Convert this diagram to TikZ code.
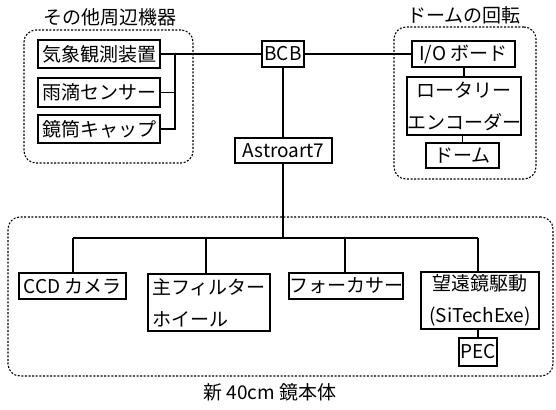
\documentclass[tikz,border=0pt]{standalone}
\usepackage{fontspec}
\setmainfont{Noto Sans CJK JP}
\begin{document}
\begin{tikzpicture}[x=1pt,y=-1pt,
  box/.style={draw,line width=1.1pt,inner sep=0pt,font=\fontsize{19}{32}\selectfont},
  group/.style={draw,line width=1.1pt,dash pattern=on 2pt off 1.6pt,rounded corners=12pt,inner sep=0pt},
  ttl/.style={font=\fontsize{19}{22}\selectfont,inner sep=0pt},
  conn/.style={line width=1.1pt}]
\useasboundingbox (0,0) rectangle (556,409);
% groups
\node[group,minimum width=169pt,minimum height=133pt] (g1) at (108.5,96.5) {};
\node[group,minimum width=142pt,minimum height=152pt] (g2) at (465,103) {};
\node[group,minimum width=545pt,minimum height=159pt] (g3) at (280.5,296.5) {};
\node[ttl] (t1) at (110,17) {その他周辺機器};
\node[ttl] (t2) at (464,15) {ドームの回転};
\node[ttl] (t3) at (270,392) {新 40cm 鏡本体};
% boxes
\node[box,minimum width=122pt,minimum height=28pt] (met) at (99,54) {気象観測装置};
\node[box,minimum width=122pt,minimum height=29pt] (rain) at (99,92.5) {雨滴センサー};
\node[box,minimum width=122pt,minimum height=28pt] (cap) at (99,129) {鏡筒キャップ};
\node[box,minimum width=42pt,minimum height=26pt] (bcb) at (283,54) {BCB};
\node[box,minimum width=103pt,minimum height=26pt] (io) at (463.5,54) {I/O ボード};
\node[box,minimum width=114pt,minimum height=58pt,align=center] (enc) at (464,106) {ロータリー\\エンコーダー};
\node[box,minimum width=73pt,minimum height=25pt] (dome) at (462.5,155.5) {ドーム};
\node[box,minimum width=97pt,minimum height=25pt] (astro) at (283.5,150.5) {Astroart7};
\node[box,minimum width=107pt,minimum height=26pt] (ccd) at (72.5,286) {CCD カメラ};
\node[box,minimum width=122pt,minimum height=57pt,align=left] (filt) at (209,302.5) {主フィルター\\ホイール};
\node[box,minimum width=114pt,minimum height=26pt] (foc) at (346,286) {フォーカサー};
\node[box,minimum width=118pt,minimum height=57pt,align=center] (drv) at (480,300.5) {望遠鏡駆動\\(SiTechExe)};
\node[box,minimum width=38pt,minimum height=28pt] (pec) at (478,352) {PEC};
% connectors
\coordinate (vb) at (175,54);
\draw[conn] (met.east) -- (bcb.west);
\draw[conn] (vb) -- (vb |- cap.east) -- (cap.east);
\draw[conn] (rain.east) -- (vb |- rain.east);
\draw[conn] (bcb.east) -- (io.west);
\draw[conn] (io.south -| enc.north) -- (enc.north);
\draw[conn] (enc.south -| dome.north) -- (dome.north);
\draw[conn] (bcb.south) -- (bcb.south |- astro.north);
\coordinate (busA) at (283,238);
\coordinate (busC) at (73,238);
\coordinate (busF) at (206,238);
\coordinate (busO) at (345,238);
\coordinate (busD) at (478,238);
\draw[conn] (astro.south -| busA) -- (busA);
\draw[conn] (busC) -- (busD);
\draw[conn] (busC) -- (busC |- ccd.north);
\draw[conn] (busF) -- (busF |- filt.north);
\draw[conn] (busO) -- (busO |- foc.north);
\draw[conn] (busD) -- (busD |- drv.north);
\draw[conn] (pec.north |- drv.south) -- (pec.north);
\end{tikzpicture}
\end{document}
